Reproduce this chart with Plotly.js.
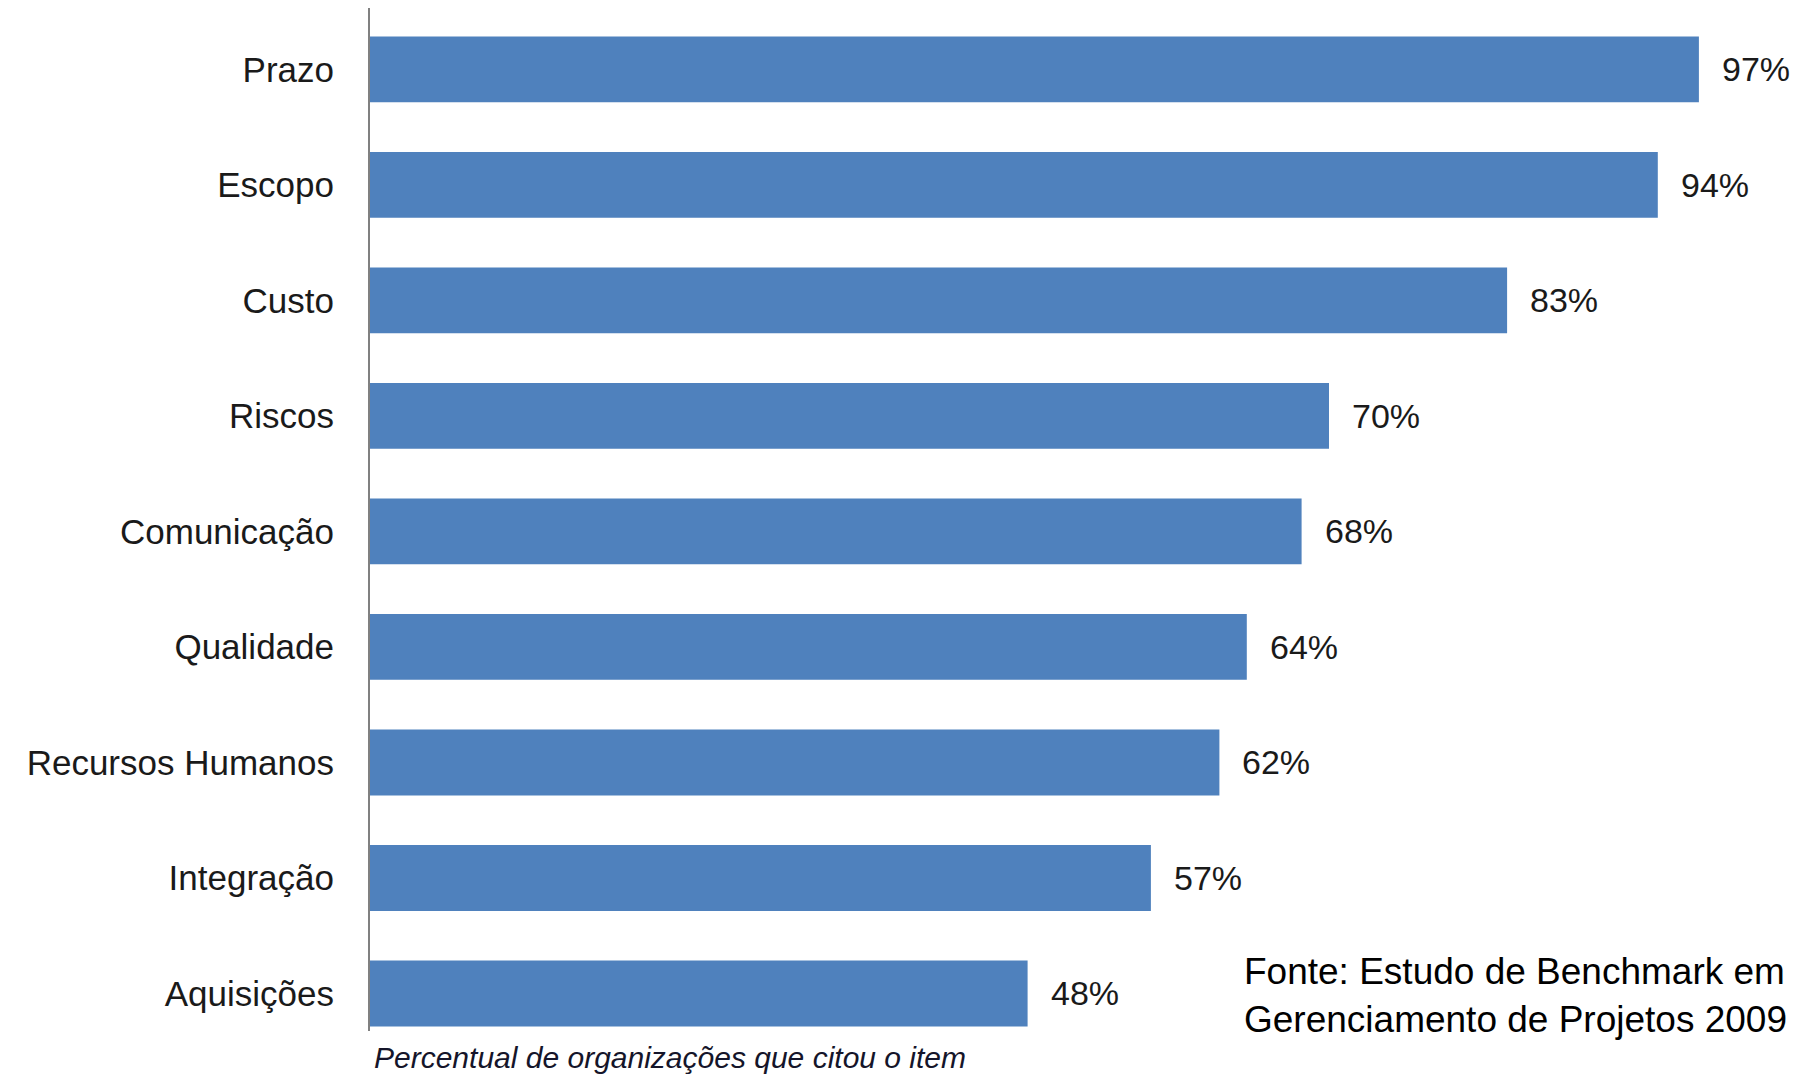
<!DOCTYPE html>
<html>
<head>
<meta charset="utf-8">
<script src="https://cdn.plot.ly/plotly-3.0.1.min.js"></script>
<style>
html,body{margin:0;padding:0;background:#fff;}
#chart{width:1806px;height:1080px;}
</style>
</head>
<body>
<div id="chart"></div>
<script>
const categories = ["Prazo","Escopo","Custo","Riscos","Comunicação","Qualidade","Recursos Humanos","Integração","Aquisições"];
const values = [97,94,83,70,68,64,62,57,48];
const valueLabels = ["97%","94%","83%","70%","68%","64%","62%","57%","48%"];
const axisNote = "Percentual de organizações que citou o item";
const sourceNote = "Fonte: Estudo de Benchmark em<br>Gerenciamento de Projetos 2009";

const W = 1806, H = 1080;
const mL = 370, mR = 10, mT = 8, mB = 49;
const plotW = W - mL - mR, plotH = H - mT - mB;
const px2x = p => (p - mL) / plotW;
const py2y = p => (H - mB - p) / plotH;

const trace = {
  type: 'bar',
  orientation: 'h',
  y: categories,
  x: values,
  marker: {color: '#4F81BD', line: {width: 0}},
  hoverinfo: 'skip'
};

const annotations = values.map((v, i) => ({
  x: v, y: categories[i], xref: 'x', yref: 'y',
  text: valueLabels[i], showarrow: false,
  xanchor: 'left', yanchor: 'middle', xshift: 21,
  font: {family: 'Liberation Sans, Arial, sans-serif', size: 34, color: '#1a1a1a'}
}));

annotations.push({
  xref: 'paper', yref: 'paper', x: px2x(372), y: py2y(1057),
  xanchor: 'left', yanchor: 'middle', showarrow: false,
  text: '<i>' + axisNote + '</i>',
  font: {family: 'Liberation Sans, Arial, sans-serif', size: 30, color: '#15152a'}
});

annotations.push({
  xref: 'paper', yref: 'paper', x: px2x(1242), y: py2y(995),
  xanchor: 'left', yanchor: 'middle', align: 'left', showarrow: false,
  text: sourceNote,
  font: {family: 'Liberation Sans, Arial, sans-serif', size: 37, color: '#000'}
});

const layout = {
  width: W, height: H,
  margin: {l: mL, r: mR, t: mT, b: mB, pad: 0},
  paper_bgcolor: '#ffffff', plot_bgcolor: '#ffffff',
  showlegend: false,
  bargap: 0.43,
  xaxis: {
    range: [0, plotW / 13.7],
    showgrid: false, zeroline: false, showline: false,
    showticklabels: false, ticks: ''
  },
  yaxis: {
    type: 'category',
    categoryorder: 'array', categoryarray: categories,
    range: [8.325, -0.532],
    showgrid: false, zeroline: false,
    showline: true, linecolor: '#808080', linewidth: 2,
    ticks: '', ticklabelstandoff: 27,
    tickfont: {family: 'Liberation Sans, Arial, sans-serif', size: 35, color: '#1a1a1a'}
  },
  annotations: annotations
};

Plotly.newPlot('chart', [trace], layout, {displayModeBar: false, staticPlot: true});
</script>
</body>
</html>
